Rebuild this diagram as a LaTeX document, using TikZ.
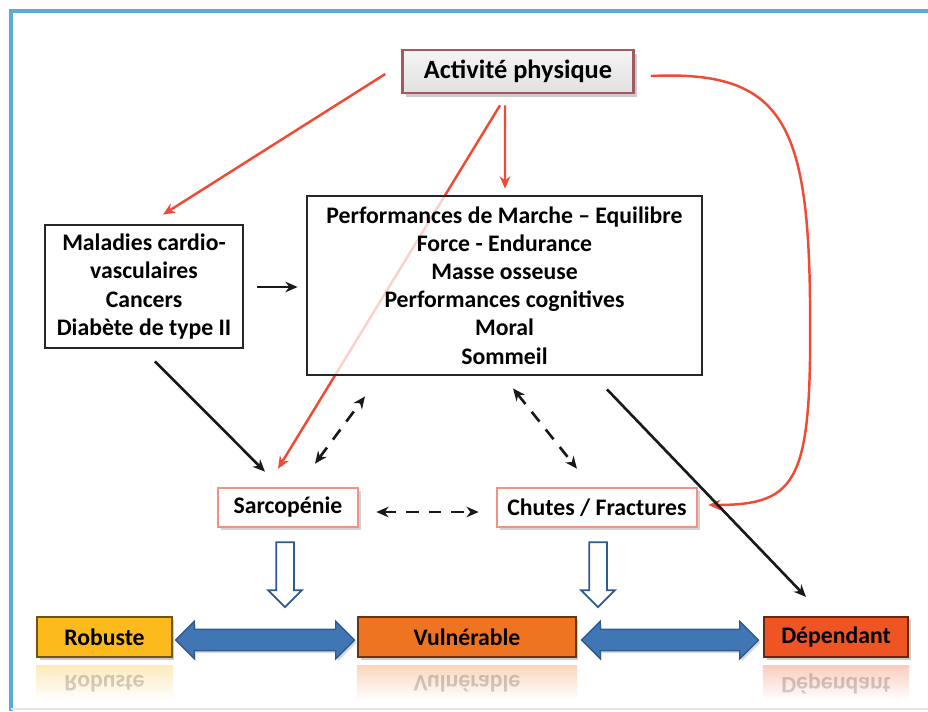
\documentclass[tikz,border=0pt]{standalone}
\usepackage{fontspec}
\setmainfont{Carlito}
\usepackage{xcolor}
\usepackage{tikz}
\usetikzlibrary{calc}
\usetikzlibrary{arrows.meta}
\usetikzlibrary{shapes.arrows}
\usetikzlibrary{shadows}
\usetikzlibrary{backgrounds}
\definecolor{frameblue}{HTML}{5DA9DD}
\definecolor{arrowred}{HTML}{F04A35}
\definecolor{actborder}{HTML}{A25A5E}
\definecolor{pinkborder}{HTML}{F19084}
\definecolor{robgold}{HTML}{FCBA1C}
\definecolor{vulorange}{HTML}{EE7422}
\definecolor{depred}{HTML}{EE5522}
\definecolor{blockblue}{HTML}{4176B5}
\definecolor{blockline}{HTML}{2E5B8E}
\tikzstyle{boldtext} = [font=\fontsize{13.5}{16}\selectfont\bfseries]
\tikzstyle{actbox} = [draw=actborder, line width=1.5pt, top color=gray!8,
bottom color=gray!24, minimum width=4.62cm, minimum height=0.86cm,
font=\fontsize{15}{18}\selectfont\bfseries,
drop shadow={shadow xshift=.07cm, shadow yshift=-.07cm, opacity=.4}]
\tikzstyle{textbox} = [draw=black!85, line width=1.6pt, fill=white,
fill opacity=.75, text opacity=1, align=center, inner sep=0pt, boldtext]
\tikzstyle{pinkbox} = [draw=pinkborder, line width=1.5pt, fill=white,
minimum height=0.78cm, boldtext,
drop shadow={shadow xshift=.06cm, shadow yshift=-.06cm, opacity=.35}]
\tikzset{statebox/.style={draw=#1!45!black, line width=1.2pt, fill=#1,
minimum height=0.8cm, boldtext,
drop shadow={shadow xshift=.05cm, shadow yshift=-.06cm, opacity=.4}}}
\tikzstyle{redarrow} = [draw=arrowred, line width=1.4pt,
-{Stealth[length=7pt, width=6pt]}]
\tikzstyle{blackarrow} = [draw=black!90, line width=1.5pt,
-{Stealth[length=7pt, width=6pt]}]
\tikzstyle{dasharrow} = [blackarrow, dash pattern=on .25cm off .2cm,
{Stealth[length=7pt, width=6pt]}-{Stealth[length=7pt, width=6pt]}]
\tikzstyle{dblarrow} = [double arrow, draw=blockline, line width=.8pt,
fill=blockblue, inner xsep=0pt, inner ysep=.2cm,
double arrow head extend=.16cm,
drop shadow={shadow xshift=.04cm, shadow yshift=-.05cm, opacity=.3}]
\tikzstyle{downarrow} = [single arrow, draw=blockline, line width=1pt,
fill=white, inner xsep=0pt, inner ysep=.16cm, minimum height=1.3cm,
single arrow head extend=.16cm, rotate=-90, anchor=tail]

\begin{document}
\begin{tikzpicture}[x=0.02cm, y=-0.02cm]
    \useasboundingbox (0,0) rectangle (928,711);
    % frame
    \draw[frameblue, line width=2.2pt] (11,711) -- (11,11) -- (928,11);
    \draw[black!10, line width=.8pt] (11,709) -- (928,709);

    % boxes
    \node[actbox] (act) at (518,71.5) {Activité physique};
    \node[textbox, minimum width=3.96cm, minimum height=2.46cm] (mal) at (144,286.5)
        {Maladies cardio-\\vasculaires\\Cancers\\Diabète de type II};
    \node[textbox, minimum width=7.9cm, minimum height=3.58cm] (perf) at (504.5,285.5)
        {Performances de Marche -- Equilibre\\Force - Endurance\\Masse osseuse\\%
         Performances cognitives\\Moral\\Sommeil};
    \node[pinkbox, minimum width=2.8cm] (sarc) at (288,507.5) {Sarcopénie};
    \node[pinkbox, minimum width=4cm] (chut) at (597,507.5) {Chutes / Fractures};

    % states with their reflection
    \node[statebox=robgold, minimum width=2.7cm] (rob) at (104.5,637) {Robuste};
    \node[statebox=vulorange, minimum width=4.36cm] (vul) at (467,637) {Vulnérable};
    \node[statebox=depred, minimum width=2.88cm] (dep) at (836,637) {Dépendant};
    \foreach \n/\c/\t in {rob/robgold/Robuste, vul/vulorange/Vulnérable, dep/depred/Dépendant} {
        \shade[top color=\c!30, bottom color=white]
            ($(\n.south west)+(0,7)$) rectangle ($(\n.south east)+(0,42)$);
        \node[boldtext, text opacity=.18, yscale=-1] (\n refl) at ($(\n)+(0,47)$) {\t};
    }

    % red arrows
    \begin{pgfonlayer}{background}
        \draw[redarrow] ($(act.south)+(-18,11)$) -- ($(sarc.north)+(-10,-18)$);
    \end{pgfonlayer}
    \draw[redarrow] ($(act.west)+(-16,2.5)$) -- ($(mal.north)+(19,-9)$);
    \draw[redarrow] ($(act.south)+(-13,11)$) -- ($(perf.north)+(0.5,-6)$);
    \draw[redarrow] ($(act.east)+(16,4.5)$) .. controls (780,70) and (808,120) .. (810,300)
        .. controls (812,480) and (800,505) .. ($(chut.east)+(10,-2.5)$);

    % black arrows
    \draw[blackarrow] ($(mal.east)+(13,0.5)$) -- ($(perf.west)+(-8,1.5)$);
    \draw[blackarrow] ($(mal.south)+(11,12)$) -- ($(sarc.north)+(-23,-15)$);
    \draw[blackarrow] ($(perf.south)+(102.5,13)$) -- ($(dep.north)+(-30,-19)$);
    \draw[dasharrow] ($(sarc.north)+(27,-23)$) -- ($(perf.south)+(-139.5,20)$);
    \draw[dasharrow] ($(perf.south)+(8.5,12)$) -- ($(chut.north)+(-20,-18)$);
    \draw[dasharrow] ($(sarc.east)+(17,4.5)$) -- ($(chut.west)+(-17,4.5)$);

    % block arrows
    \node[downarrow] (sarcdown) at ($(sarc.south)+(-3,13)$) {};
    \node[downarrow] (chutdown) at ($(chut.south)+(1,13)$) {};
    \path (rob.east) -- (vul.west) node[midway, dblarrow, minimum height=3.58cm, yshift=-.06cm] (robvul) {};
    \path (vul.east) -- (dep.west) node[midway, dblarrow, minimum height=3.54cm, yshift=-.06cm] (vuldep) {};
\end{tikzpicture}
\end{document}
